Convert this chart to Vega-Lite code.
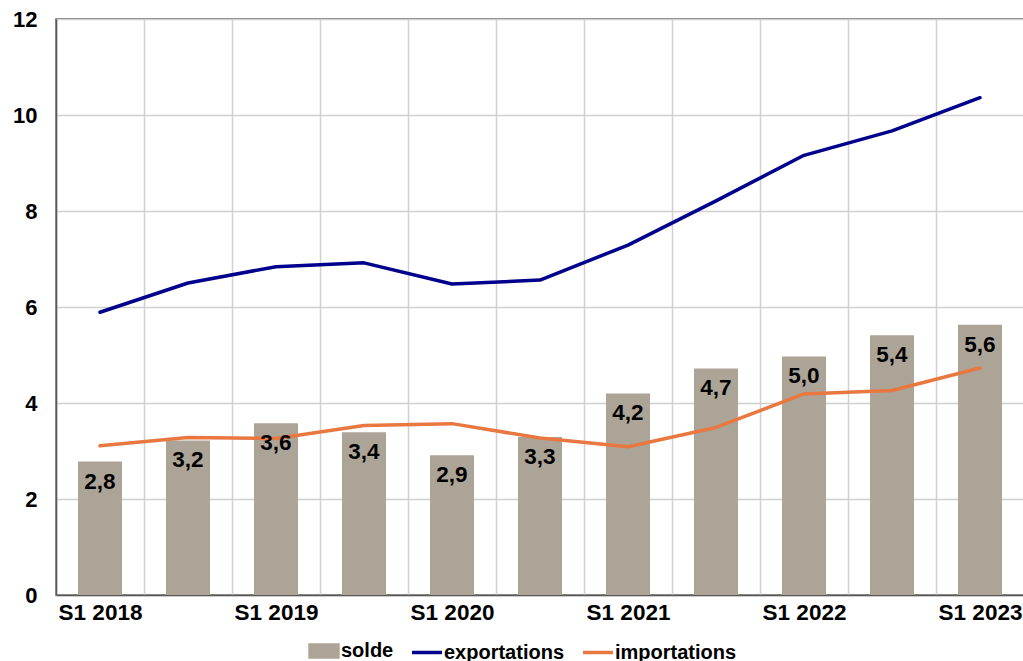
{
  "$schema": "https://vega.github.io/schema/vega-lite/v6.json",
  "width": 968,
  "height": 576,
  "autosize": {"type": "none"},
  "padding": {"left": 56, "top": 19, "right": 0, "bottom": 66},
  "background": "white",
  "config": {
    "font": "Liberation Sans",
    "view": {"stroke": "#595959", "strokeWidth": 1.5},
    "locale": {"number": {"decimal": ",", "thousands": " ", "grouping": [3], "currency": ["", " €"]}}
  },
  "data": {
    "values": [
      {"periode": "S1 2018", "serie": "solde", "valeur": 2.78},
      {"periode": "S2 2018", "serie": "solde", "valeur": 3.22},
      {"periode": "S1 2019", "serie": "solde", "valeur": 3.58},
      {"periode": "S2 2019", "serie": "solde", "valeur": 3.39},
      {"periode": "S1 2020", "serie": "solde", "valeur": 2.91},
      {"periode": "S2 2020", "serie": "solde", "valeur": 3.29},
      {"periode": "S1 2021", "serie": "solde", "valeur": 4.2},
      {"periode": "S2 2021", "serie": "solde", "valeur": 4.72},
      {"periode": "S1 2022", "serie": "solde", "valeur": 4.97},
      {"periode": "S2 2022", "serie": "solde", "valeur": 5.41},
      {"periode": "S1 2023", "serie": "solde", "valeur": 5.63},
      {"periode": "S1 2018", "serie": "exportations", "valeur": 5.89},
      {"periode": "S2 2018", "serie": "exportations", "valeur": 6.5},
      {"periode": "S1 2019", "serie": "exportations", "valeur": 6.84},
      {"periode": "S2 2019", "serie": "exportations", "valeur": 6.92},
      {"periode": "S1 2020", "serie": "exportations", "valeur": 6.48},
      {"periode": "S2 2020", "serie": "exportations", "valeur": 6.56},
      {"periode": "S1 2021", "serie": "exportations", "valeur": 7.29},
      {"periode": "S2 2021", "serie": "exportations", "valeur": 8.21},
      {"periode": "S1 2022", "serie": "exportations", "valeur": 9.16},
      {"periode": "S2 2022", "serie": "exportations", "valeur": 9.67},
      {"periode": "S1 2023", "serie": "exportations", "valeur": 10.36},
      {"periode": "S1 2018", "serie": "importations", "valeur": 3.11},
      {"periode": "S2 2018", "serie": "importations", "valeur": 3.28},
      {"periode": "S1 2019", "serie": "importations", "valeur": 3.26},
      {"periode": "S2 2019", "serie": "importations", "valeur": 3.53},
      {"periode": "S1 2020", "serie": "importations", "valeur": 3.57},
      {"periode": "S2 2020", "serie": "importations", "valeur": 3.27},
      {"periode": "S1 2021", "serie": "importations", "valeur": 3.09},
      {"periode": "S2 2021", "serie": "importations", "valeur": 3.49},
      {"periode": "S1 2022", "serie": "importations", "valeur": 4.19},
      {"periode": "S2 2022", "serie": "importations", "valeur": 4.26},
      {"periode": "S1 2023", "serie": "importations", "valeur": 4.73}
    ]
  },
  "encoding": {
    "x": {
      "field": "periode",
      "type": "ordinal",
      "sort": null,
      "scale": {"paddingInner": 0, "paddingOuter": 0},
      "axis": {
        "title": null,
        "labelAngle": 0,
        "labelExpr": "substring(datum.label, 0, 2) === 'S2' ? '' : datum.label",
        "labelFont": "Liberation Sans",
        "labelFontWeight": "bold",
        "labelFontSize": 22.5,
        "labelColor": "#000000",
        "labelPadding": 6,
        "ticks": false,
        "tickSize": 0,
        "tickBand": "extent",
        "grid": true,
        "gridColor": "#D0D0D0",
        "gridWidth": 1.5,
        "domainColor": "#595959",
        "domainWidth": 1.5
      }
    },
    "y": {
      "field": "valeur",
      "type": "quantitative",
      "scale": {"domain": [0, 12], "nice": false},
      "axis": {
        "title": null,
        "values": [0, 2, 4, 6, 8, 10, 12],
        "labelFont": "Liberation Sans",
        "labelFontWeight": "bold",
        "labelFontSize": 22,
        "labelColor": "#000000",
        "labelPadding": 19,
        "ticks": false,
        "tickSize": 0,
        "grid": true,
        "gridColor": "#D0D0D0",
        "gridWidth": 1.5,
        "domainColor": "#595959",
        "domainWidth": 1.5
      }
    },
    "color": {
      "field": "serie",
      "type": "nominal",
      "scale": {
        "domain": ["solde", "exportations", "importations"],
        "range": ["#ADA498", "#00008C", "#E87740"]
      },
      "legend": {
        "title": null,
        "orient": "none",
        "direction": "horizontal",
        "legendX": 251,
        "legendY": 615,
        "labelFont": "Liberation Sans",
        "labelFontWeight": "bold",
        "labelFontSize": 20,
        "labelColor": "#000000",
        "labelOffset": 0,
        "columnPadding": 11,
        "symbolSize": 900,
        "encode": {
          "symbols": {
            "update": {
              "shape": {"signal": "datum.value === 'solde' ? 'M-0.93,-0.4H0.93V0.4H-0.93Z' : 'stroke'"},
              "fill": {"signal": "datum.value === 'solde' ? '#ADA498' : 'transparent'"},
              "stroke": {"signal": "datum.value === 'solde' ? 'transparent' : (datum.value === 'exportations' ? '#00008C' : '#E87740')"},
              "strokeWidth": {"value": 3.5},
              "opacity": {"value": 1}
            }
          }
        }
      }
    }
  },
  "layer": [
    {
      "transform": [{"filter": "datum.serie === 'solde'"}],
      "mark": {"type": "bar", "width": {"band": 0.5}, "opacity": 1}
    },
    {
      "transform": [{"filter": "datum.serie !== 'solde'"}],
      "mark": {"type": "line", "strokeWidth": 3.5, "strokeCap": "round", "strokeJoin": "round"}
    },
    {
      "transform": [{"filter": "datum.serie === 'solde'"}],
      "mark": {
        "type": "text",
        "baseline": "middle",
        "align": "center",
        "dy": 20,
        "font": "Liberation Sans",
        "fontWeight": "bold",
        "fontSize": 22.5,
        "color": "#000000"
      },
      "encoding": {
        "text": {"field": "valeur", "type": "quantitative", "format": ".1f"},
        "color": {"value": "#000000"}
      }
    }
  ]
}
